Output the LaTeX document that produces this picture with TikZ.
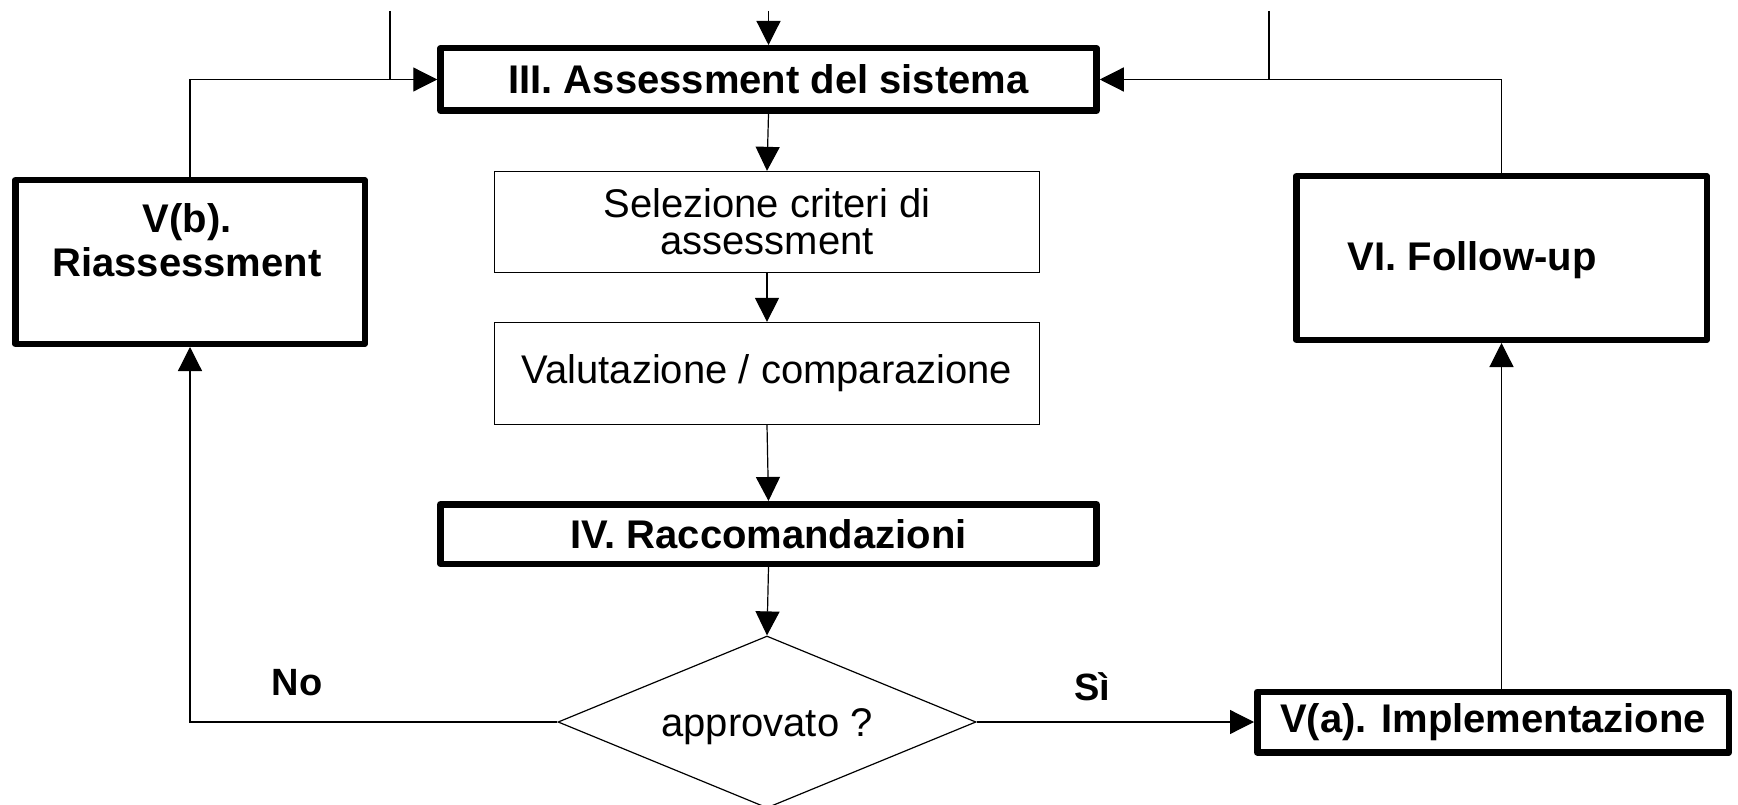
\documentclass[tikz,border=0pt]{standalone}
\usepackage{fontspec}
\setmainfont{Liberation Sans}
\usetikzlibrary{arrows.meta,shapes.geometric}
\begin{document}
\begin{tikzpicture}[x=1pt,y=-1pt,
  thickbox/.style={draw, line width=6.5pt, line join=round, rectangle, inner sep=0pt, align=center, font=\fontsize{40}{44}\selectfont\bfseries},
  thinbox/.style={draw, line width=1.3pt, rectangle, inner sep=0pt, align=center, font=\fontsize{40}{37}\selectfont},
  conn/.style={line width=1.2pt},
  arr/.style={conn, -{Triangle[length=24pt,width=24pt]}},
  lbl/.style={font=\fontsize{40}{44}\selectfont\bfseries, inner sep=0pt, align=center}
]
\fill[white] (0,0) rectangle (1738,805);
\useasboundingbox (0,0) rectangle (1738,805);

% boxes
\node[thickbox, minimum width=656pt, minimum height=62.5pt] (iii) at (768.5,79.5) {III. Assessment del sistema};
\node[thinbox, minimum width=545pt, minimum height=101pt] (sel) at (767,222) {Selezione criteri di\\assessment};
\node[thinbox, minimum width=545pt, minimum height=102pt] (val) at (767,373.5) {Valutazione / comparazione};
\node[thickbox, minimum width=656pt, minimum height=59.5pt] (iv) at (768.5,534) {IV. Raccomandazioni};
\node[draw, diamond, line width=1.2pt, minimum width=418pt, minimum height=172pt, inner sep=0pt, aspect=2.43] (dia) at (767,722) {};
\node[inner sep=0pt, font=\fontsize{40}{46}\selectfont] (diat) at (767,727) {approvato ?};
\node[thickbox, minimum width=349.5pt, minimum height=163.5pt] (vb) at (190,262) {};
\node[lbl] (vbt) at (187,240) {V(b).\\Riassessment};
\node[thickbox, minimum width=410.5pt, minimum height=163.5pt] (vi) at (1501.5,258) {};
\node[lbl] (vit) at (1472,260) {VI. Follow-up};
\node[thickbox, minimum width=471.5pt, minimum height=60.5pt] (va) at (1493,722) {V(a). Implementazione};

% labels
\node[lbl, font=\fontsize{38}{44}\selectfont\bfseries] (no) at (297,683) {No};
\node[lbl, font=\fontsize{38}{44}\selectfont\bfseries] (si) at (1092,687) {Sì};

% free ends at the top
\coordinate (ctop) at (768.5,11);
\coordinate (ltop) at (390,11);
\coordinate (rtop) at (1269,11);

% connectors
\draw[arr] (ctop) -- (iii.north);
\draw[conn] (ltop) -- (ltop |- iii.west);
\draw[conn] (rtop) -- (rtop |- iii.east);
\draw[arr] (vb.north) |- (iii.west);
\draw[arr] (vi.north) |- (iii.east);
\draw[arr] (iii.south) -- (sel.north);
\draw[arr] (sel.south) -- (val.north);
\draw[arr] (val.south) -- (iv.north);
\draw[arr] (iv.south) -- (dia.north);
\draw[arr] (dia.west) -| (vb.south);
\draw[arr] (dia.east) -- (dia.east -| va.west);
\draw[arr] (va.north -| vi.south) -- (vi.south);
\end{tikzpicture}
\end{document}
